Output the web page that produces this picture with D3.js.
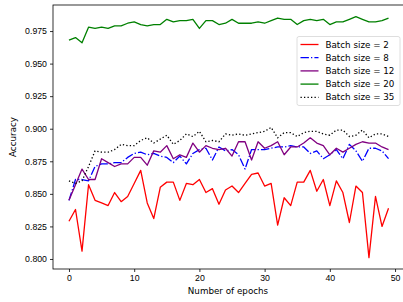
<!DOCTYPE html>
<html lang="en">
  <head>
    <meta charset="utf-8">
    <script src="https://d3js.org/d3.v7.min.js"></script>
    <title>Accuracy vs epochs</title>
    <style>
      body {
        margin: 0;
        background-color: #fff;
      }
      svg {
        display: block;
        font-family: "DejaVu Sans", sans-serif;
      }
      .tick text {
        font-size: 8.75px;
        fill: #000;
      }
    </style>
  </head>
  <body>
    <div class="chartHolder"></div>
    <script>
      // accuracy per epoch
      const epochs = d3.range(0, 50);

      const batch2 = [0.829, 0.838, 0.806, 0.857, 0.845, 0.843, 0.841, 0.851, 0.844, 0.848,
                      0.858, 0.868, 0.843, 0.831, 0.855, 0.859, 0.859, 0.845, 0.858, 0.857,
                      0.861, 0.851, 0.854, 0.842, 0.853, 0.856, 0.851, 0.858, 0.865, 0.866,
                      0.856, 0.858, 0.826, 0.847, 0.841, 0.859, 0.859, 0.868, 0.852, 0.861,
                      0.841, 0.860, 0.851, 0.828, 0.856, 0.851, 0.801, 0.848, 0.825, 0.839];

      const batch8 = [0.845, 0.861, 0.861, 0.860, 0.871, 0.873, 0.873, 0.874, 0.874, 0.878,
                      0.881, 0.882, 0.880, 0.881, 0.879, 0.878, 0.874, 0.879, 0.873, 0.881,
                      0.884, 0.885, 0.876, 0.886, 0.883, 0.884, 0.880, 0.869, 0.884, 0.884,
                      0.884, 0.885, 0.886, 0.886, 0.887, 0.886, 0.886, 0.881, 0.883, 0.877,
                      0.880, 0.884, 0.877, 0.888, 0.883, 0.875, 0.885, 0.885, 0.883, 0.877];

      const batch12 = [0.845, 0.857, 0.869, 0.861, 0.861, 0.877, 0.874, 0.871, 0.873, 0.873,
                       0.878, 0.878, 0.872, 0.883, 0.882, 0.887, 0.877, 0.880, 0.878, 0.889,
                       0.882, 0.887, 0.885, 0.884, 0.885, 0.879, 0.890, 0.890, 0.876, 0.890,
                       0.885, 0.887, 0.890, 0.880, 0.886, 0.886, 0.889, 0.893, 0.889, 0.887,
                       0.880, 0.885, 0.882, 0.885, 0.888, 0.890, 0.889, 0.889, 0.886, 0.884];

      const batch20 = [0.968, 0.970, 0.966, 0.978, 0.977, 0.978, 0.977, 0.979, 0.979, 0.981,
                       0.982, 0.980, 0.979, 0.980, 0.980, 0.984, 0.982, 0.983, 0.983, 0.984,
                       0.977, 0.983, 0.983, 0.980, 0.981, 0.984, 0.981, 0.981, 0.981, 0.982,
                       0.981, 0.983, 0.985, 0.984, 0.984, 0.980, 0.983, 0.984, 0.983, 0.984,
                       0.980, 0.982, 0.982, 0.984, 0.986, 0.984, 0.982, 0.982, 0.983, 0.985];

      const batch35 = [0.860, 0.858, 0.860, 0.871, 0.883, 0.882, 0.882, 0.884, 0.888, 0.887,
                       0.887, 0.891, 0.893, 0.889, 0.892, 0.895, 0.888, 0.891, 0.896, 0.894,
                       0.898, 0.890, 0.891, 0.890, 0.896, 0.895, 0.896, 0.895, 0.896, 0.897,
                       0.898, 0.901, 0.893, 0.897, 0.897, 0.894, 0.897, 0.898, 0.898, 0.896,
                       0.895, 0.899, 0.899, 0.894, 0.895, 0.899, 0.893, 0.896, 0.896, 0.894];

      const seriesNames = ['Batch size = 2', 'Batch size = 8', 'Batch size = 12', 'Batch size = 20', 'Batch size = 35'];
      const seriesColors = ['#ff0000', '#0000ff', '#800080', '#008000', '#000000'];
      const seriesDashes = [null, '8.4,2.1,1.3,2.1', null, null, '1.3,2.2'];

      const xTicks = [0, 10, 20, 30, 40, 50];
      const yTicks = [0.800, 0.825, 0.850, 0.875, 0.900, 0.925, 0.950, 0.975];

      const allSeries = [batch2, batch8, batch12, batch20, batch35];

      const svgSize = {'width': 403, 'height': 302};
      const plot = {'left': 53, 'right': 404.5, 'top': 5, 'bottom': 269};

      let svg = d3.select('.chartHolder')
        .append('svg')
        .attr('width', svgSize.width)
        .attr('height', svgSize.height);

      let xScale = d3.scaleLinear()
        .domain([-2.45, 51.45])
        .range([plot.left, plot.right]);
      let yScale = d3.scaleLinear()
        .domain([0.7923, 0.995])
        .range([plot.bottom, plot.top]);

      let line = d3.line()
        .x((d, i) => xScale(epochs[i]))
        .y((d) => yScale(d));

      svg.selectAll('path.series')
        .data(allSeries)
        .enter()
        .append('path')
          .attr('class', 'series')
          .attr('d', line)
          .attr('fill', 'none')
          .attr('stroke', (d, i) => seriesColors[i])
          .attr('stroke-width', 1.3)
          .attr('stroke-dasharray', (d, i) => seriesDashes[i])
          .attr('stroke-linejoin', 'round');

      let xAxis = d3.axisBottom(xScale)
        .tickValues(xTicks)
        .tickSize(3)
        .tickPadding(3)
        .tickSizeOuter(0);
      let yAxis = d3.axisLeft(yScale)
        .tickValues(yTicks)
        .tickFormat(d3.format('.3f'))
        .tickSize(3)
        .tickPadding(3)
        .tickSizeOuter(0);

      let gx = svg.append('g')
        .attr('id', 'x-axis')
        .attr('transform', 'translate(0, ' + plot.bottom + ')')
        .call(xAxis);
      let gy = svg.append('g')
        .attr('id', 'y-axis')
        .attr('transform', 'translate(' + plot.left + ', 0)')
        .call(yAxis);
      gx.select('.domain').remove();
      gy.select('.domain').remove();
      svg.selectAll('.tick line').attr('stroke', '#000').attr('stroke-width', 0.8);

      // frame
      svg.append('rect')
        .attr('x', plot.left)
        .attr('y', plot.top)
        .attr('width', plot.right - plot.left)
        .attr('height', plot.bottom - plot.top)
        .attr('fill', 'none')
        .attr('stroke', '#000')
        .attr('stroke-width', 0.8);

      svg.append('text')
        .attr('x', (plot.left + 395) / 2 + 4)
        .attr('y', 294)
        .attr('text-anchor', 'middle')
        .attr('font-size', '8.75px')
        .text('Number of epochs');
      svg.append('text')
        .attr('transform', 'translate(15.5, ' + (plot.top + plot.bottom) / 2 + ') rotate(-90)')
        .attr('text-anchor', 'middle')
        .attr('font-size', '8.75px')
        .text('Accuracy');

      // legend
      let legend = svg.append('g')
        .attr('transform', 'translate(297, 36.5)');
      legend.append('rect')
        .attr('width', 103)
        .attr('height', 69)
        .attr('rx', 2)
        .attr('fill', '#fff')
        .attr('fill-opacity', 0.8)
        .attr('stroke', '#d6d6d6')
        .attr('stroke-width', 0.8);
      let rows = legend.selectAll('g.row')
        .data(seriesNames)
        .enter()
        .append('g')
          .attr('class', 'row')
          .attr('transform', (d, i) => 'translate(0, ' + (8 + i * 13.2) + ')');
      rows.append('line')
        .attr('x1', 3.5)
        .attr('x2', 21.5)
        .attr('stroke', (d, i) => seriesColors[i])
        .attr('stroke-width', 1.3)
        .attr('stroke-dasharray', (d, i) => seriesDashes[i]);
      rows.append('text')
        .attr('x', 28.5)
        .attr('dy', '0.35em')
        .attr('font-size', '8.75px')
        .text((d) => d);
    </script>
  </body>
</html>
